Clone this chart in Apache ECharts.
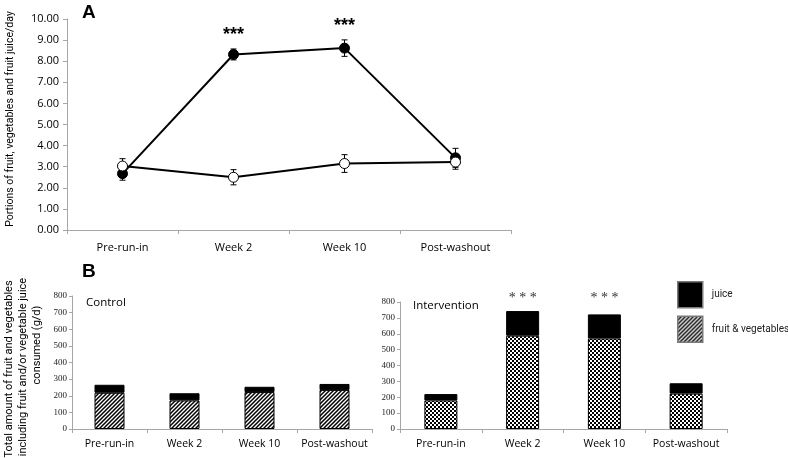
<!DOCTYPE html>
<html><head><meta charset="utf-8">
<script src="https://cdn.jsdelivr.net/npm/echarts@6/dist/echarts.min.js"></script>
<style>html,body{margin:0;padding:0;background:#fff}#c{width:788px;height:458px}</style>
</head><body><div id="c"></div>
<script>
// ---------- data ----------
const categories = ['Pre-run-in', 'Week 2', 'Week 10', 'Post-washout'];
const aYTicks = [0, 1, 2, 3, 4, 5, 6, 7, 8, 9, 10];
const aIntervention = [2.67, 8.32, 8.62, 3.42];
const aInterventionErr = [0.31, 0.26, 0.39, 0.45];
const aControl = [3.03, 2.50, 3.15, 3.22];
const aControlErr = [0.35, 0.36, 0.42, 0.34];
const aStars = ['', '***', '***', ''];
const bYTicks = [0, 100, 200, 300, 400, 500, 600, 700, 800];
const ctrlFruitVeg = [218, 172, 222, 235];
const ctrlJuice = [48, 43, 32, 36];
const intFruitVeg = [180, 588, 570, 223];
const intJuice = [40, 155, 152, 65];
const bStars = ['', '* * *', '* * *', ''];

// ---------- patterns ----------
function hatchPattern() {
  const c = document.createElement('canvas'); c.width = 4; c.height = 4;
  const g = c.getContext('2d');
  g.fillStyle = '#fff'; g.fillRect(0, 0, 4, 4);
  g.strokeStyle = '#000'; g.lineWidth = 1.5;
  g.beginPath();
  g.moveTo(-1, 5); g.lineTo(5, -1);
  g.moveTo(-1, 1); g.lineTo(1, -1);
  g.moveTo(3, 5); g.lineTo(5, 3);
  g.stroke();
  return c;
}
function checkerPattern() {
  const c = document.createElement('canvas'); c.width = 4; c.height = 4;
  const g = c.getContext('2d');
  g.fillStyle = '#fff'; g.fillRect(0, 0, 4, 4);
  g.fillStyle = '#000'; g.fillRect(0, 0, 2, 2); g.fillRect(2, 2, 2, 2);
  return c;
}
const hatch = { image: hatchPattern(), repeat: 'repeat' };
const checker = { image: checkerPattern(), repeat: 'repeat' };

// ---------- helpers ----------
function errData(vals, errs) { return vals.map((v, i) => [i, v - errs[i], v + errs[i]]); }
function errRender(params, api) {
  const x = api.value(0);
  const top = api.coord([x, api.value(2)]);
  const bot = api.coord([x, api.value(1)]);
  const w = 3;
  const st = { stroke: '#000', lineWidth: 1 };
  return { type: 'group', children: [
    { type: 'line', shape: { x1: top[0], y1: top[1], x2: bot[0], y2: bot[1] }, style: st },
    { type: 'line', shape: { x1: top[0] - w, y1: top[1], x2: top[0] + w, y2: top[1] }, style: st },
    { type: 'line', shape: { x1: bot[0] - w, y1: bot[1], x2: bot[0] + w, y2: bot[1] }, style: st }
  ]};
}
const sansFont = 'Open Sans';
const axisGrey = '#a6a6a6';

function catAxis(gi, fs) {
  return {
    type: 'category', gridIndex: gi, data: categories, boundaryGap: true,
    axisLine: { lineStyle: { color: axisGrey, width: 1 } },
    axisTick: { show: true, alignWithLabel: false, length: 4, lineStyle: { color: axisGrey } },
    axisLabel: { color: '#000', fontFamily: sansFont, fontSize: fs, margin: gi === 0 ? 12 : 10, interval: 0 }
  };
}
function valAxisB(gi) {
  return {
    type: 'value', gridIndex: gi, min: bYTicks[0], max: bYTicks[bYTicks.length - 1], interval: 100,
    splitLine: { show: false },
    axisLine: { show: true, lineStyle: { color: axisGrey } },
    axisTick: { show: true, length: 3, lineStyle: { color: axisGrey } },
    axisLabel: { color: '#222', fontFamily: 'Liberation Serif', fontSize: 9, margin: 5 }
  };
}

const aStarDist = [0, 5, 8, 0];
const bStarDist = [0, 6, 9, 0];

const option = {
  animation: false,
  backgroundColor: '#fff',
  grid: [
    { left: 67, top: 19, width: 444, height: 211 },
    { left: 72, top: 296, width: 300, height: 133 },
    { left: 400, top: 302, width: 327, height: 127 }
  ],
  xAxis: [catAxis(0, 11), catAxis(1, 10.5), catAxis(2, 10.5)],
  yAxis: [
    {
      type: 'value', gridIndex: 0, min: aYTicks[0], max: aYTicks[aYTicks.length - 1], interval: 1,
      splitLine: { show: false },
      axisLine: { show: true, lineStyle: { color: axisGrey } },
      axisTick: { show: true, length: 4, lineStyle: { color: axisGrey } },
      axisLabel: { color: '#000', fontFamily: sansFont, fontSize: 11, margin: 8,
        formatter: v => v.toFixed(2) }
    },
    valAxisB(1), valAxisB(2)
  ],
  legend: {
    orient: 'vertical', left: 672, top: 276, itemWidth: 25, itemHeight: 26, itemGap: 7,
    icon: 'rect', data: ['juice', 'fruit & vegetables'],
    itemStyle: { borderColor: '#7a7a7a', borderWidth: 1.5 },
    textStyle: { fontFamily: 'Roboto', fontSize: 10, color: '#222', padding: [0, 0, 0, 4] },
    selectedMode: false
  },
  graphic: [
    { type: 'text', left: 82, top: 3, style: { text: 'A', font: 'bold 19px "Liberation Sans"', fill: '#000' } },
    { type: 'text', left: 82, top: 262, style: { text: 'B', font: 'bold 19px "Liberation Sans"', fill: '#000' } },
    { type: 'text', x: 10, y: 119, rotation: Math.PI / 2,
      style: { text: 'Portions of fruit, vegetables and fruit juice/day', font: '10.5px Roboto', fill: '#000', align: 'center', verticalAlign: 'middle' } },
    { type: 'text', x: 9, y: 369, rotation: Math.PI / 2,
      style: { text: 'Total amount of fruit and vegetables', font: '11px Roboto', fill: '#000', align: 'center', verticalAlign: 'middle' } },
    { type: 'text', x: 23, y: 367, rotation: Math.PI / 2,
      style: { text: 'including fruit and/or vegetable juice', font: '11px Roboto', fill: '#000', align: 'center', verticalAlign: 'middle' } },
    { type: 'text', x: 37, y: 345, rotation: Math.PI / 2,
      style: { text: 'consumed (g/d)', font: '11px Roboto', fill: '#000', align: 'center', verticalAlign: 'middle' } },
    { type: 'text', x: 86, y: 303, style: { text: 'Control', font: '11.5px "Open Sans"', fill: '#000', align: 'left', verticalAlign: 'middle' } },
    { type: 'text', x: 413, y: 306, style: { text: 'Intervention', font: '11.5px "Open Sans"', fill: '#000', align: 'left', verticalAlign: 'middle' } }
  ],
  series: [
    { type: 'custom', xAxisIndex: 0, yAxisIndex: 0, renderItem: errRender, data: errData(aIntervention, aInterventionErr), z: 2 },
    { type: 'custom', xAxisIndex: 0, yAxisIndex: 0, renderItem: errRender, data: errData(aControl, aControlErr), z: 2 },
    {
      name: 'Intervention (portions)', type: 'line', xAxisIndex: 0, yAxisIndex: 0, z: 3,
      symbol: 'circle', symbolSize: 10,
      lineStyle: { color: '#000', width: 2 },
      itemStyle: { color: '#000', borderColor: '#000', borderWidth: 1 },
      data: aIntervention.map((v, i) => aStars[i] ? {
        value: v,
        label: { show: true, position: 'top', distance: aStarDist[i], formatter: aStars[i],
          fontFamily: 'Liberation Sans', fontWeight: 'bold', fontSize: 18, color: '#000' }
      } : v)
    },
    {
      name: 'Control (portions)', type: 'line', xAxisIndex: 0, yAxisIndex: 0, z: 4,
      symbol: 'circle', symbolSize: 10,
      lineStyle: { color: '#000', width: 2 },
      itemStyle: { color: '#fff', borderColor: '#000', borderWidth: 1 },
      data: aControl
    },
    {
      name: 'fruit & vegetables', type: 'bar', stack: 'c', xAxisIndex: 1, yAxisIndex: 1, barWidth: 30,
      itemStyle: { color: hatch, borderColor: '#000', borderWidth: 1 }, data: ctrlFruitVeg
    },
    {
      name: 'juice', type: 'bar', stack: 'c', xAxisIndex: 1, yAxisIndex: 1, barWidth: 30,
      itemStyle: { color: '#000', borderColor: '#000', borderWidth: 1 }, data: ctrlJuice
    },
    {
      name: 'fruit & vegetables', type: 'bar', stack: 'i', xAxisIndex: 2, yAxisIndex: 2, barWidth: 33,
      itemStyle: { color: checker, borderColor: '#000', borderWidth: 1 }, data: intFruitVeg
    },
    {
      name: 'juice', type: 'bar', stack: 'i', xAxisIndex: 2, yAxisIndex: 2, barWidth: 33,
      itemStyle: { color: '#000', borderColor: '#000', borderWidth: 1 },
      data: intJuice.map((v, i) => bStars[i] ? {
        value: v,
        label: { show: true, position: 'top', distance: bStarDist[i], formatter: bStars[i],
          fontFamily: 'Liberation Serif', fontSize: 14, color: '#333' }
      } : v)
    }
  ]
};
const chart = echarts.init(document.getElementById('c'), null, { renderer: 'canvas' });
chart.setOption(option);
</script>
</body></html>
